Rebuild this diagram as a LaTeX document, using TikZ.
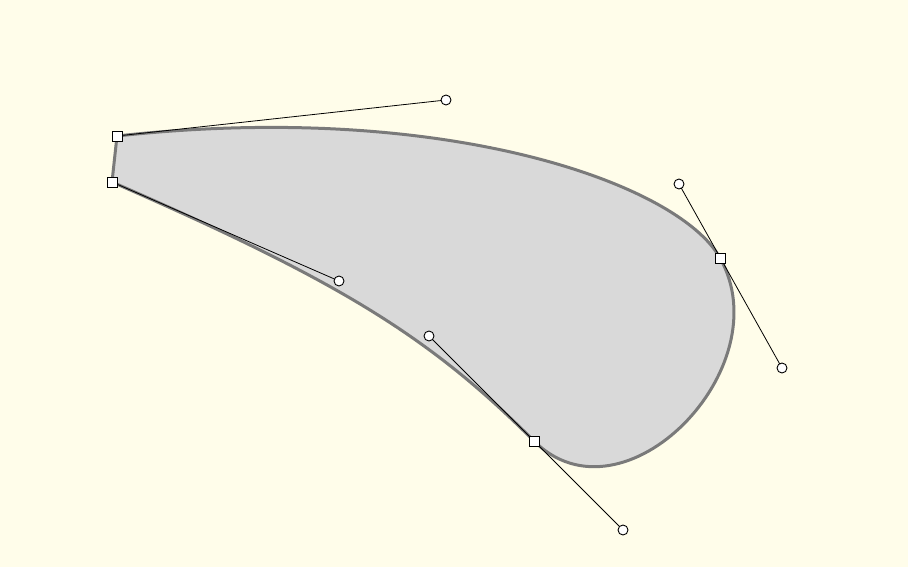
\documentclass[tikz,border=0pt]{standalone}
\usepackage{tikz}
\usetikzlibrary{calc}
\definecolor{paperyellow}{RGB}{255,253,234}
\definecolor{shapegray}{RGB}{217,217,217}
\definecolor{edgegray}{RGB}{122,122,122}

\begin{document}
\begin{tikzpicture}[x=1pt,y=-1pt,
    anchorpt/.style={draw=black,fill=white,line width=0.9pt,minimum size=10pt,inner sep=0pt},
    handlept/.style={draw=black,fill=white,circle,line width=0.9pt,minimum size=10pt,inner sep=0pt},
    handle/.style={draw=black,line width=0.8pt}]
    \fill[paperyellow] (0,0) rectangle (908,567);
    \useasboundingbox (0,0) rectangle (908,567);
    % anchors and their control points
    \coordinate (pA) at (117,136);
    \coordinate (pB) at (720,258);
    \coordinate (pC) at (534,441);
    \coordinate (pD) at (112,182);
    \coordinate (cA) at (446,100);
    \coordinate (cBin) at (679,184);
    \coordinate (cBout) at (782,368);
    \coordinate (cCin) at (623,530);
    \coordinate (cCout) at (429,336);
    \coordinate (cD) at (339,281);
    \draw[fill=shapegray,draw=edgegray,line width=3pt,line join=round]
      (pA) .. controls (cA) and (cBin) .. (pB)
           .. controls (cBout) and (cCin) .. (pC)
           .. controls (cCout) and (cD) .. (pD) -- cycle;
    \draw[handle] (pA) -- (cA);
    \draw[handle] (cBin) -- (cBout);
    \draw[handle] (cCout) -- (cCin);
    \draw[handle] (pD) -- (cD);
    \node[handlept] (hA) at (cA) {};
    \node[handlept] (hBin) at (cBin) {};
    \node[handlept] (hBout) at (cBout) {};
    \node[handlept] (hCin) at (cCin) {};
    \node[handlept] (hCout) at (cCout) {};
    \node[handlept] (hD) at (cD) {};
    \node[anchorpt] (nA) at (pA) {};
    \node[anchorpt] (nB) at (pB) {};
    \node[anchorpt] (nC) at (pC) {};
    \node[anchorpt] (nD) at (pD) {};
\end{tikzpicture}
\end{document}
